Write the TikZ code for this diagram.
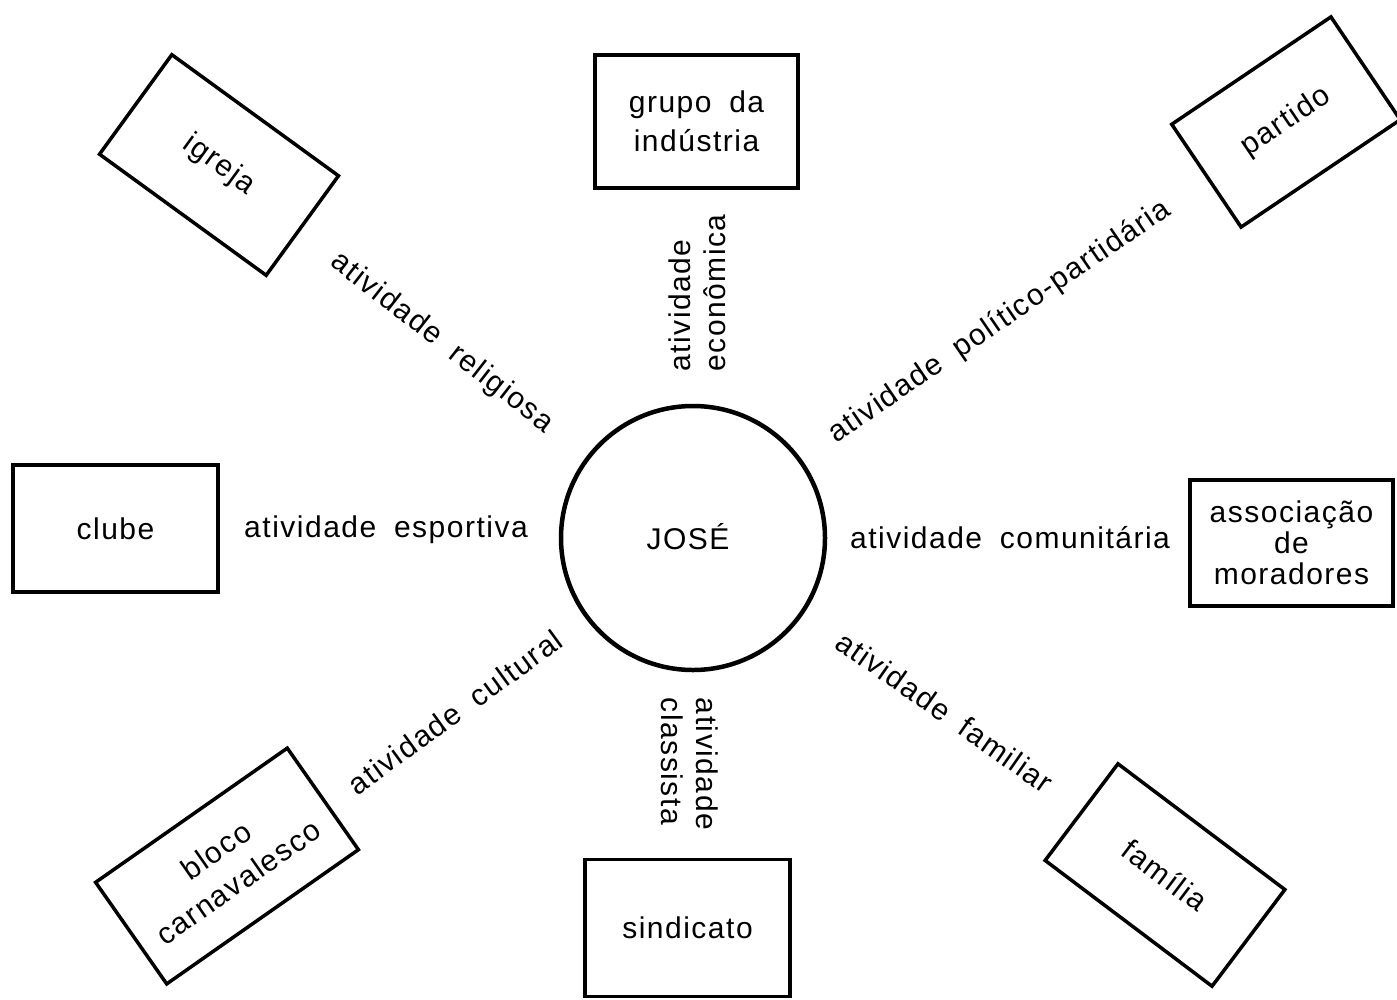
\documentclass[tikz,border=0pt]{standalone}
\usepackage{fontspec}
\newfontfamily\lbl[LetterSpace=5,WordSpace=1.8]{Liberation Sans}
\begin{document}
\begin{tikzpicture}[x=1pt,y=-1pt,
  txt/.style={font={\lbl\fontsize{30}{34}\selectfont}, inner sep=0pt},
  boxnode/.style={draw, line width=3.5pt, inner sep=0pt, align=center,
    font={\lbl\fontsize{30}{39}\selectfont}},
]
\useasboundingbox (0,0) rectangle (1397,999);
\fill[white] (0,0) rectangle (1397,999);
% centre
\node[draw, circle, line width=4.5pt, minimum size=264pt, inner sep=0pt] (jose) at (693,538) {};
\node[txt] (josetxt) at (688,537) {JOSÉ};
% boxes
\node[boxnode, minimum width=203pt, minimum height=133pt] (grupo) at (696.5,121.5) {grupo da\\indústria};
\node[boxnode, minimum width=205pt, minimum height=127pt] (clube) at (115.5,528.5) {clube};
\node[boxnode, minimum width=203pt, minimum height=126pt, font={\lbl\fontsize{30}{31}\selectfont}] (assoc) at (1291.5,543) {associação\\de\\moradores};
\node[boxnode, minimum width=205pt, minimum height=137pt] (sind) at (687.5,928) {sindicato};
\node[boxnode, minimum width=206pt, minimum height=123pt, rotate=-36] (igreja) at (219,165) {igreja};
\node[boxnode, minimum width=192pt, minimum height=124pt, rotate=34] (partido) at (1286,122) {partido};
\node[boxnode, minimum width=234pt, minimum height=124pt, rotate=35] (bloco) at (227,866) {bloco\\carnavalesco};
\node[boxnode, minimum width=209pt, minimum height=121pt, rotate=-37] (familia) at (1165,875) {família};
% labels
\node[txt] (lesp) at (386,530) {atividade esportiva};
\node[txt] (lcom) at (1010,538) {atividade comunitária};
\node[txt, rotate=90, align=left, font={\lbl\fontsize{30}{35}\selectfont}] (leco) at (697.5,293) {atividade\\econômica};
\node[txt, rotate=-90, align=left, font={\lbl\fontsize{30}{35}\selectfont}] (lcla) at (689.5,764) {atividade\\classista};
\node[txt, rotate=-38] (lrel) at (442,343) {atividade religiosa};
\node[txt, rotate=34.4] (lpol) at (1000,322) {atividade político-partidária};
\node[txt, rotate=36] (lcul) at (455,712) {atividade cultural};
\node[txt, rotate=-35] (lfam) at (945,712) {atividade familiar};
\end{tikzpicture}
\end{document}
